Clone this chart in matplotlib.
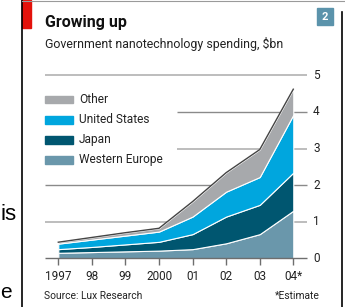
import matplotlib.pyplot as plt
from matplotlib.patches import Rectangle
from matplotlib.lines import Line2D

plt.rcParams['font.family'] = ['Roboto', 'DejaVu Sans']

# data, $bn
years = [1997, 1998, 1999, 2000, 2001, 2002, 2003, 2004]
year_labels = ['1997', '98', '99', '2000', '01', '02', '03', '04*']
western_europe = [0.15, 0.17, 0.19, 0.21, 0.25, 0.41, 0.66, 1.30]
japan = [0.10, 0.14, 0.19, 0.24, 0.41, 0.73, 0.80, 1.04]
united_states = [0.15, 0.20, 0.24, 0.28, 0.48, 0.68, 0.76, 1.58]
other = [0.04, 0.06, 0.08, 0.09, 0.41, 0.52, 0.75, 0.70]
series_names = ['Other', 'United States', 'Japan', 'Western Europe']
colors = ['#a7a9ac', '#00a6de', '#005670', '#6a97ab']
y_ticks = [0, 1, 2, 3, 4, 5]

W, H = 345, 307
fig = plt.figure(figsize=(W / 100, H / 100), dpi=100)

# pixel calibration of the plot area
x0_px, x_step = 58.3, 33.57
y0_px, y_step = 258.3, 36.6

def px_x(p):
    return years[0] + (p - x0_px) / x_step

def px_y(p):
    return (y0_px - p) / y_step

ax = fig.add_axes([0, 0, 1, 1])
ax.set_xlim(px_x(0), px_x(W))
ax.set_ylim(px_y(H), px_y(0))
ax.axis('off')

# gridlines
for v in y_ticks[1:]:
    start = px_x(177) if v in (3, 4) else px_x(45)
    col = '#8a8a8a' if v % 2 == 0 else '#bdbdbd'
    lw = 1.0 if v % 2 == 0 else 1.4
    ax.hlines(v, start, px_x(307), color=col, lw=lw, zorder=1)
for v in y_ticks:
    ax.text(px_x(313), v, str(v), ha='left', va='center', fontsize=8.5, color='#222222')

# stacked areas
ax.stackplot(years, western_europe, japan, united_states, other,
             colors=colors[::-1], edgecolor='white', linewidth=0.8, zorder=2)
tops = [w + j + u + o for w, j, u, o in zip(western_europe, japan, united_states, other)]
ax.plot(years, tops, color='#444444', lw=1.0, zorder=3)

# baseline and ticks
ax.hlines(0, px_x(45), px_x(307), color='#6e6e6e', lw=1.0, zorder=4)
ax.vlines(years, px_y(265), 0, color='#6e6e6e', lw=1.0, zorder=4)
for yr, lab in zip(years, year_labels):
    ax.text(yr, px_y(277), lab, ha='center', va='center', fontsize=8.5, color='#222222')

# legend
for i, (name, c) in enumerate(zip(series_names, colors)):
    top = 96 + i * 20
    fig.patches.append(Rectangle((45 / W, 1 - (top + 7.5) / H), 28 / W, 7.5 / H,
                                 transform=fig.transFigure, color=c))
    fig.text(79 / W, 1 - (top + 3.8) / H, name, ha='left', va='center',
             fontsize=8.6, color='#222222')

# titles and notes
fig.text(45 / W, 1 - 22 / H, 'Growing up', ha='left', va='center',
         fontsize=11.5, fontweight='bold', color='#111111')
fig.text(45 / W, 1 - 44 / H, 'Government nanotechnology spending, $bn',
         ha='left', va='center', fontsize=8.9, color='#222222')
fig.text(44 / W, 1 - 296 / H, 'Source: Lux Research', ha='left', va='center',
         fontsize=7.4, color='#222222')
fig.text(320 / W, 1 - 296 / H, '*Estimate', ha='right', va='center',
         fontsize=7.4, color='#222222')

# frame, red tag and chart number
fig.add_artist(Line2D([21.5 / W, 21.5 / W], [0, 1], color='black', lw=1.2))
fig.add_artist(Line2D([341.5 / W, 341.5 / W], [0, 1 - 12 / H], color='black', lw=1.2))
fig.add_artist(Line2D([22 / W, 1], [1 - 0.5 / H, 1 - 0.5 / H], color='#9a9a9a', lw=0.8))
fig.patches.append(Rectangle((22 / W, 1 - 28 / H), 9 / W, 28 / H,
                             transform=fig.transFigure, color='#e3120b'))
fig.patches.append(Rectangle((317 / W, 1 - 25 / H), 16 / W, 17 / H,
                             transform=fig.transFigure, color='#5b93ab'))
fig.text(325 / W, 1 - 16.5 / H, '2', ha='center', va='center', fontsize=8,
         fontweight='bold', color='white')

# leftover page text outside the frame
fig.text(0.5 / W, 1 - 214 / H, 'is', ha='left', va='center', fontsize=16,
         family='Liberation Sans', color='black')
fig.text(0.5 / W, 1 - 292 / H, 'e', ha='left', va='center', fontsize=15,
         family='Liberation Sans', color='black')

fig.savefig('out.png', dpi=100)
